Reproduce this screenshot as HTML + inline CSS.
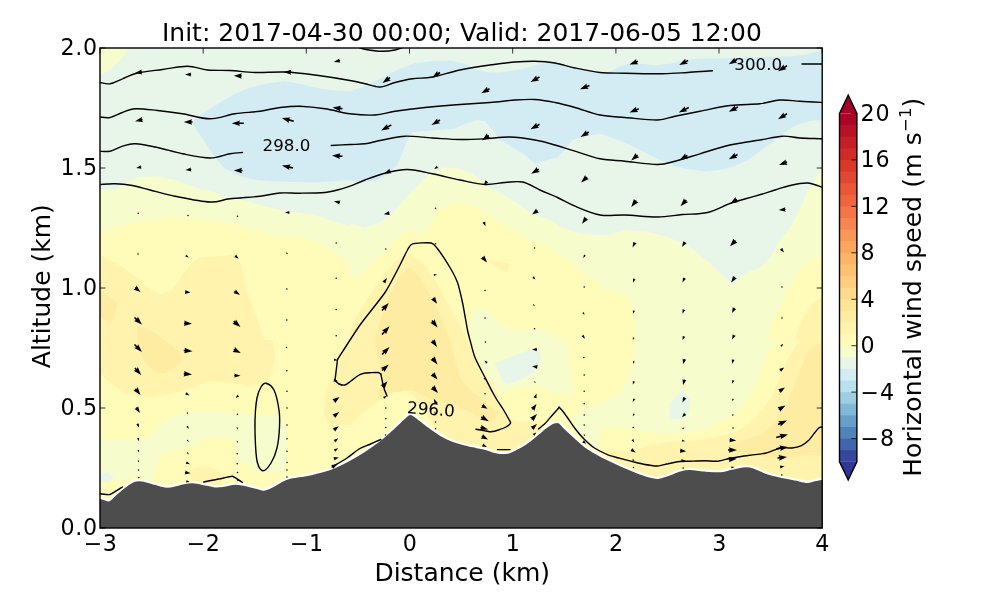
<!DOCTYPE html>
<html><head><meta charset="utf-8"><title>Cross section</title>
<style>html,body{margin:0;padding:0;background:#fff}svg{display:block}text{font-family:"DejaVu Sans","Liberation Sans",sans-serif;fill:#000}</style></head><body>
<svg width="1000" height="600" viewBox="0 0 1000 600">
<rect width="1000" height="600" fill="#fff"/>
<defs><clipPath id="ax"><rect x="100.0" y="48.0" width="722.2" height="480.0"/></clipPath></defs>
<g clip-path="url(#ax)">
<rect x="100.0" y="48.0" width="722.2" height="480.0" fill="#fffbb9"/>
<clipPath id="t1"><rect x="100.0" y="40.0" width="250.0" height="150.0"/></clipPath>
<g clip-path="url(#t1)">
<rect x="99.0" y="39.0" width="252.0" height="152.0" fill="#e8f6ea"/>
<polygon points="100.0,40.0 130.0,40.0 130.0,47.5 122.5,57.5 110.0,70.0 100.0,73.8" fill="#f7fccd"/>
<polygon points="192.0,122.5 200.0,115.0 220.0,102.5 235.0,93.8 250.0,87.5 270.0,83.0 285.0,81.2 300.0,83.8 315.0,87.5 330.0,90.0 350.0,91.2 350.0,180.0 335.0,181.2 315.0,182.5 290.0,182.0 270.0,181.2 255.0,180.0 240.0,176.2 225.0,168.8 215.0,157.5 205.0,142.5 197.5,131.2" fill="#d3ecf4"/>
<polygon points="115.0,190.0 125.0,182.5 140.0,177.0 157.5,176.2 175.0,180.0 192.5,186.2 202.5,190.0" fill="#f7fccd"/>
</g>
<clipPath id="t2"><rect x="350.0" y="40.0" width="250.0" height="150.0"/></clipPath>
<g clip-path="url(#t2)">
<rect x="349.0" y="39.0" width="252.0" height="152.0" fill="#e8f6ea"/>
<polygon points="350.0,91.2 365.0,86.2 382.5,77.5 400.0,68.8 415.0,63.0 432.5,61.2 450.0,60.5 462.5,63.0 475.0,68.8 485.0,72.0 500.0,72.5 520.0,69.5 535.0,65.0 550.0,62.5 565.0,65.5 580.0,68.5 595.0,71.2 600.0,72.0 600.0,133.8 585.0,136.2 572.5,140.0 565.0,150.0 557.5,157.5 547.5,160.0 535.0,163.8 525.0,155.0 512.5,147.5 500.0,140.0 492.5,130.0 485.0,121.2 477.5,120.0 465.0,123.8 455.0,128.8 432.5,130.5 412.5,132.0 407.5,140.0 402.5,152.5 397.5,165.0 387.5,175.0 375.0,181.2 360.0,182.0 350.0,180.0" fill="#d3ecf4"/>
<polygon points="413.8,190.0 422.5,180.0 432.5,171.2 445.0,167.5 457.5,168.0 470.0,172.5 482.5,181.2 492.5,190.0" fill="#f7fccd"/>
</g>
<clipPath id="t3"><rect x="600.0" y="40.0" width="250.0" height="150.0"/></clipPath>
<g clip-path="url(#t3)">
<rect x="599.0" y="39.0" width="252.0" height="152.0" fill="#e8f6ea"/>
<polygon points="600.0,72.0 607.0,73.0 617.5,67.5 628.0,63.8 640.0,63.5 655.0,65.2 670.0,63.8 685.0,60.0 700.0,58.5 730.0,58.0 760.0,57.0 790.0,56.2 807.5,54.5 817.5,51.2 822.5,48.8 850.0,48.8 850.0,119.5 812.5,120.5 800.0,123.8 790.0,128.8 780.0,136.2 770.0,143.8 760.0,151.2 750.0,158.8 735.0,166.2 720.0,170.0 705.0,171.2 690.0,169.5 675.0,166.2 660.0,160.0 645.0,152.5 630.0,145.0 615.0,138.8 600.0,133.8" fill="#d3ecf4"/>
<polygon points="822.5,167.5 817.5,175.0 812.5,185.0 810.0,190.0 850.0,190.0 850.0,167.5" fill="#f7fccd"/>
</g>
<clipPath id="t4"><rect x="100.0" y="190.0" width="250.0" height="150.0"/></clipPath>
<g clip-path="url(#t4)">
<rect x="99.0" y="189.0" width="252.0" height="152.0" fill="#fffbb9"/>
<polygon points="100.0,190.0 350.0,190.0 350.0,262.5 337.5,255.0 325.0,245.5 312.5,240.0 300.0,237.0 285.0,236.2 275.0,236.2 260.0,231.2 240.0,225.0 220.0,222.0 200.0,218.8 175.0,217.5 150.0,219.5 130.0,223.8 112.5,228.8 100.0,230.0" fill="#f7fccd"/>
<polygon points="207.5,190.0 225.0,196.2 245.0,200.5 265.0,206.2 285.0,211.2 300.0,213.0 315.0,215.0 330.0,220.0 350.0,226.2 350.0,190.0" fill="#e8f6ea"/>
<polygon points="100.0,255.0 115.0,262.5 130.0,272.5 145.0,285.0 160.0,295.0 172.5,290.0 182.5,275.0 192.5,262.5 202.5,257.0 220.0,256.2 235.0,254.5 241.2,265.0 245.0,282.5 250.0,300.0 257.5,320.0 265.0,340.0 100.0,340.0" fill="#fff3ad"/>
<polygon points="100.0,290.0 117.5,302.5 115.0,315.0 110.0,325.0 100.0,315.0" fill="#feeca2"/>
<polygon points="137.0,326.0 150.0,330.0 159.0,336.0 163.0,340.0 137.0,340.0" fill="#feeca2"/>
</g>
<clipPath id="t5"><rect x="350.0" y="190.0" width="250.0" height="150.0"/></clipPath>
<g clip-path="url(#t5)">
<rect x="349.0" y="189.0" width="252.0" height="152.0" fill="#fffbb9"/>
<polygon points="350.0,275.0 358.8,276.2 367.5,267.5 380.0,255.0 395.0,240.0 407.5,230.5 422.5,234.5 430.0,225.0 437.5,211.2 450.0,203.8 462.5,202.5 475.0,207.0 490.0,215.0 505.0,225.0 520.0,233.8 530.0,238.8 545.0,243.8 557.5,252.5 575.0,265.0 587.5,276.2 600.0,283.0 600.0,190.0 350.0,190.0" fill="#f7fccd"/>
<polygon points="350.0,190.0 412.5,190.0 403.8,200.0 392.5,213.8 380.0,222.5 365.0,228.0 350.0,223.0" fill="#e8f6ea"/>
<polygon points="495.0,190.0 510.0,198.8 525.0,208.8 535.0,215.0 547.5,218.8 562.5,227.5 580.0,233.8 600.0,235.0 600.0,190.0" fill="#e8f6ea"/>
<polygon points="350.0,340.0 350.0,330.0 360.0,310.0 375.0,287.5 387.5,270.0 400.0,257.5 410.0,253.8 425.0,265.0 437.5,285.0 450.0,307.5 460.0,325.0 467.5,340.0" fill="#fff3ad"/>
<polygon points="375.0,340.0 377.5,330.0 387.5,300.0 400.0,275.0 410.0,267.5 420.0,277.5 430.0,295.0 440.0,315.0 450.0,340.0" fill="#feeca2"/>
<polygon points="486.2,259.5 510.0,263.8 506.2,272.5" fill="#fff3ad"/>
<polygon points="469.5,340.0 470.0,320.0 473.8,308.8 482.5,307.5 490.0,312.5 500.0,323.8 512.5,329.5 530.0,330.0 545.0,328.8 553.8,333.8 557.5,340.0" fill="#f7fccd"/>
</g>
<clipPath id="t6"><rect x="600.0" y="190.0" width="250.0" height="150.0"/></clipPath>
<g clip-path="url(#t6)">
<rect x="599.0" y="189.0" width="252.0" height="152.0" fill="#f7fccd"/>
<polygon points="600.0,190.0 600.0,235.0 610.0,234.5 625.0,230.0 645.0,231.2 665.0,236.2 685.0,243.8 700.0,255.0 715.0,267.5 725.0,277.5 732.5,285.0 740.0,277.5 750.0,271.2 760.0,267.5 770.0,257.5 780.0,240.0 790.0,227.5 800.0,210.0 807.5,190.0" fill="#e8f6ea"/>
<polygon points="600.0,288.8 612.5,290.0 625.0,297.5 632.5,310.0 635.0,325.0 636.2,340.0 600.0,340.0" fill="#fffbb9"/>
<polygon points="850.0,256.2 822.5,256.2 812.5,258.8 802.5,265.0 795.0,277.5 787.5,290.0 780.0,305.0 772.5,322.5 765.0,340.0 850.0,340.0" fill="#fffbb9"/>
<polygon points="850.0,297.5 822.5,297.5 812.5,302.5 805.0,315.0 797.5,330.0 795.0,340.0 850.0,340.0" fill="#fff3ad"/>
</g>
<clipPath id="t7"><rect x="100.0" y="340.0" width="250.0" height="150.0"/></clipPath>
<g clip-path="url(#t7)">
<rect x="99.0" y="339.0" width="252.0" height="152.0" fill="#fffbb9"/>
<polygon points="100.0,340.0 272.5,340.0 275.0,355.0 272.5,372.5 267.5,382.5 250.0,386.2 230.0,382.5 207.5,381.2 195.0,387.5 175.0,392.5 150.0,397.5 125.0,393.8 110.0,382.5 100.0,372.5" fill="#fff3ad"/>
<polygon points="350.0,340.0 346.2,347.5 340.0,361.2 331.2,377.5 325.0,395.0 323.8,412.5 327.5,422.5 337.5,425.0 350.0,425.0" fill="#fff3ad"/>
<polygon points="137.0,340.0 163.0,340.0 169.5,343.5 180.0,352.5 181.5,360.0 175.0,367.5 163.8,373.8 152.5,370.0 145.0,361.2 138.8,350.0" fill="#feeca2"/>
<polygon points="100.0,438.8 125.0,440.0 150.0,437.5 160.0,425.0 175.0,415.0 200.0,411.2 230.0,412.5 255.0,415.0 275.0,415.0 286.2,422.5 287.5,440.0 286.2,470.0 275.0,472.5 260.0,471.2 250.0,465.0 237.5,460.0 236.2,480.0 153.8,480.0 137.5,476.2 125.0,480.0 100.0,482.5" fill="#f7fccd"/>
<polygon points="153.8,480.0 153.8,472.5 157.5,457.5 175.0,450.0 195.0,445.0 207.5,437.5 225.0,436.2 235.0,440.0 236.2,460.0 236.2,480.0" fill="#fffbb9"/>
<polygon points="190.0,470.0 200.0,466.2 212.5,467.5 222.5,475.0 220.0,490.0 190.0,490.0" fill="#fff3ad"/>
<polygon points="100.0,475.0 107.5,472.0 113.8,477.0 107.5,482.5 100.0,480.0" fill="#e8f6ea"/>
</g>
<clipPath id="t8"><rect x="350.0" y="340.0" width="250.0" height="150.0"/></clipPath>
<g clip-path="url(#t8)">
<rect x="349.0" y="339.0" width="252.0" height="152.0" fill="#fffbb9"/>
<polygon points="350.0,340.0 467.5,340.0 472.5,355.0 480.0,370.0 490.0,385.0 500.0,397.5 510.0,407.5 525.0,410.0 540.0,412.5 542.5,422.5 535.0,435.0 525.0,445.0 510.0,452.5 490.0,450.0 470.0,445.0 450.0,440.0 435.0,426.2 425.0,412.5 417.0,400.0 411.0,394.0 405.0,390.2 397.5,391.0 390.0,394.0 381.0,400.0 372.0,406.0 360.0,415.0 350.0,425.0" fill="#fff3ad"/>
<polygon points="375.0,340.0 450.0,340.0 455.0,360.0 460.0,377.5 470.0,390.0 485.0,402.5 500.0,412.5 490.0,422.5 475.0,415.0 455.0,405.0 432.5,400.0 412.5,390.0 392.5,392.5 377.5,400.0 382.5,377.5 377.5,355.0" fill="#feeca2"/>
<polygon points="472.5,340.0 567.5,340.0 570.0,365.0 572.5,385.0 575.0,393.8 562.5,392.5 550.0,393.8 535.0,397.5 520.0,398.8 505.0,396.2 495.0,385.0 485.0,372.5 477.5,357.5" fill="#f7fccd"/>
<polygon points="600.0,403.8 590.0,406.2 580.0,412.5 572.5,420.0 575.0,427.5 585.0,440.0 600.0,451.2" fill="#f7fccd"/>
<polygon points="494.5,363.8 515.0,355.0 535.0,348.5 539.5,350.0 541.2,361.2 533.8,372.5 520.0,380.0 507.5,384.5 503.0,383.0 500.0,375.0" fill="#e8f6ea"/>
</g>
<clipPath id="t9"><rect x="600.0" y="340.0" width="250.0" height="150.0"/></clipPath>
<g clip-path="url(#t9)">
<rect x="599.0" y="339.0" width="252.0" height="152.0" fill="#f7fccd"/>
<polygon points="600.0,340.0 635.0,340.0 632.5,355.0 630.0,372.5 622.5,390.0 610.0,400.0 600.0,402.5" fill="#fffbb9"/>
<polygon points="600.0,427.5 615.0,426.2 637.5,430.0 662.5,433.8 687.5,432.5 710.0,427.5 730.0,417.5 745.0,402.5 755.0,385.0 762.5,365.0 770.0,347.5 775.0,340.0 850.0,340.0 850.0,490.0 600.0,490.0" fill="#fffbb9"/>
<polygon points="600.0,450.0 635.0,451.2 650.0,445.0 675.0,441.2 700.0,440.0 720.0,436.2 735.0,432.5 750.0,422.5 762.5,410.0 772.5,395.0 780.0,377.5 787.5,360.0 795.0,347.5 800.0,340.0 850.0,340.0 850.0,490.0 600.0,490.0" fill="#fff3ad"/>
<polygon points="730.0,445.0 745.0,440.0 760.0,435.0 775.0,422.5 785.0,407.5 792.5,390.0 800.0,370.0 807.5,352.5 815.0,345.0 822.5,342.5 850.0,342.5 850.0,457.5 810.0,455.0 790.0,457.5 770.0,457.5 750.0,455.0 735.0,452.5" fill="#feeca2"/>
<polygon points="668.8,405.0 682.5,388.8 690.0,400.0 688.8,412.5 682.5,418.8 670.0,419.5" fill="#e8f6ea"/>
</g>
<path d="M568.0 339.0 C568.8 351.0 571.3 357.5 572.5 366.0 C573.8 374.5 574.0 384.0 575.5 390.0 C577.0 396.0 578.3 399.6 581.5 402.0 C584.8 404.4 589.3 405.8 595.0 404.4 C600.8 403.0 610.1 399.5 616.0 393.6 C621.9 387.7 627.3 378.1 630.4 369.0 C633.5 359.9 634.3 348.0 634.6 339.0 C635.0 330.0 634.6 322.5 632.5 315.0 C630.4 307.5 632.8 297.5 622.0 294.0 C611.3 290.5 577.0 286.5 568.0 294.0 C559.0 301.5 567.3 327.0 568.0 339.0Z" fill="#fffbb9"/>
<path d="M499.0 396.0 C502.0 392.5 513.0 388.5 520.0 387.0 C527.0 385.5 535.3 385.5 541.0 387.0 C546.8 388.5 552.0 392.5 554.5 396.0 C557.0 399.5 557.8 404.0 556.0 408.0 C554.3 412.0 551.0 418.0 544.0 420.0 C537.0 422.0 521.0 422.0 514.0 420.0 C507.0 418.0 504.5 412.0 502.0 408.0 C499.5 404.0 496.0 399.5 499.0 396.0Z" fill="#fffbb9"/>
<path d="M96.0 497.5 C96.6 497.6 99.0 497.8 100.2 498.0 C101.5 498.2 103.8 498.9 105.0 499.2 C106.2 499.5 107.9 500.8 109.2 500.2 C110.6 499.7 113.3 496.5 115.0 495.0 C116.7 493.5 120.3 490.4 122.0 489.0 C123.7 487.6 126.4 485.4 128.0 484.3 C129.6 483.2 132.5 481.4 134.0 480.9 C135.5 480.4 137.6 480.2 139.0 480.2 C140.4 480.2 142.4 480.3 144.5 480.8 C146.6 481.2 152.6 483.1 155.0 483.8 C157.4 484.4 160.8 485.6 162.5 486.0 C164.2 486.4 166.6 486.6 168.0 486.6 C169.4 486.6 170.7 486.5 173.0 486.0 C175.3 485.5 182.4 483.5 185.0 483.0 C187.6 482.5 190.1 482.1 192.5 482.2 C194.9 482.4 200.0 483.2 203.0 483.8 C206.0 484.3 212.4 486.0 215.0 486.3 C217.6 486.6 220.1 486.3 222.5 486.0 C224.9 485.7 230.8 484.0 233.0 483.8 C235.2 483.5 237.4 483.7 239.0 483.9 C240.6 484.1 243.0 484.5 245.0 484.9 C247.0 485.3 251.6 486.6 254.0 487.2 C256.4 487.9 261.3 489.4 263.0 489.6 C264.7 489.8 265.8 489.2 267.0 488.8 C268.2 488.4 269.9 487.6 272.0 486.5 C274.1 485.4 280.1 481.7 282.5 480.5 C284.9 479.3 287.6 478.4 290.0 477.8 C292.4 477.2 297.5 476.5 300.5 476.0 C303.5 475.5 309.3 474.4 312.5 473.8 C315.7 473.1 321.5 471.6 324.5 470.8 C327.5 469.9 331.6 468.5 335.0 467.0 C338.4 465.5 346.0 461.7 350.0 459.5 C354.0 457.3 361.0 453.1 365.0 450.5 C369.0 447.9 376.0 443.2 380.0 440.0 C384.0 436.8 392.0 429.5 395.0 426.8 C398.0 424.1 400.8 421.1 402.5 419.5 C404.2 417.9 406.5 415.7 407.5 415.0 C408.5 414.3 409.3 414.1 410.0 414.0 C410.7 413.9 411.5 414.1 412.5 414.6 C413.5 415.1 415.4 416.4 417.5 418.0 C419.6 419.6 425.0 424.1 428.0 426.2 C431.0 428.4 436.8 432.6 440.0 434.5 C443.2 436.4 448.8 439.2 452.0 440.5 C455.2 441.8 460.8 443.4 464.0 444.2 C467.2 445.1 473.2 446.2 476.0 446.8 C478.8 447.4 482.6 448.1 485.0 448.8 C487.4 449.4 492.1 451.2 494.0 451.8 C495.9 452.3 497.8 452.6 499.0 452.8 C500.2 453.0 501.9 453.0 503.0 453.0 C504.1 453.0 506.0 452.9 507.0 452.7 C508.0 452.5 509.0 452.4 510.5 451.8 C512.0 451.1 515.4 449.5 518.0 448.0 C520.6 446.5 527.2 442.5 530.0 440.5 C532.8 438.5 537.0 434.7 539.0 433.0 C541.0 431.3 543.4 429.0 545.0 427.8 C546.6 426.5 549.8 424.4 551.0 423.7 C552.2 423.0 553.2 422.7 554.0 422.5 C554.8 422.3 556.2 422.0 557.0 422.0 C557.8 422.0 559.0 422.0 560.0 422.8 C561.0 423.6 562.5 425.8 564.5 427.8 C566.5 429.7 572.2 435.0 575.0 437.5 C577.8 440.0 582.5 444.3 585.5 446.5 C588.5 448.7 593.9 452.0 597.5 454.0 C601.1 456.0 608.5 459.6 612.5 461.5 C616.5 463.4 623.5 466.6 627.5 468.2 C631.5 469.9 639.1 473.1 642.5 474.2 C645.9 475.4 650.8 476.8 653.0 477.2 C655.2 477.7 657.0 478.0 659.0 477.7 C661.0 477.4 665.2 476.0 668.0 475.0 C670.8 474.0 677.1 471.3 680.0 470.5 C682.9 469.7 686.7 469.0 690.0 469.0 C693.3 469.0 701.0 470.2 705.0 470.5 C709.0 470.8 716.6 471.4 720.0 471.2 C723.4 471.1 727.5 469.6 730.5 469.0 C733.5 468.4 739.9 466.8 742.5 466.5 C745.1 466.2 748.0 466.2 750.0 466.5 C752.0 466.8 755.1 468.1 757.5 469.0 C759.9 469.9 765.0 472.5 768.0 473.5 C771.0 474.5 776.4 475.7 780.0 476.5 C783.6 477.3 791.4 478.8 795.0 479.5 C798.6 480.2 804.4 481.8 807.0 481.9 C809.6 482.0 812.2 480.7 814.5 480.2 C816.8 479.8 822.7 478.7 824.0 478.5 L824.2 530.0 L96.0 530.0 Z" fill="#4d4d4d"/>
<path d="M96.0 497.5 C96.6 497.6 99.0 497.8 100.2 498.0 C101.5 498.2 103.8 498.9 105.0 499.2 C106.2 499.5 107.9 500.8 109.2 500.2 C110.6 499.7 113.3 496.5 115.0 495.0 C116.7 493.5 120.3 490.4 122.0 489.0 C123.7 487.6 126.4 485.4 128.0 484.3 C129.6 483.2 132.5 481.4 134.0 480.9 C135.5 480.4 137.6 480.2 139.0 480.2 C140.4 480.2 142.4 480.3 144.5 480.8 C146.6 481.2 152.6 483.1 155.0 483.8 C157.4 484.4 160.8 485.6 162.5 486.0 C164.2 486.4 166.6 486.6 168.0 486.6 C169.4 486.6 170.7 486.5 173.0 486.0 C175.3 485.5 182.4 483.5 185.0 483.0 C187.6 482.5 190.1 482.1 192.5 482.2 C194.9 482.4 200.0 483.2 203.0 483.8 C206.0 484.3 212.4 486.0 215.0 486.3 C217.6 486.6 220.1 486.3 222.5 486.0 C224.9 485.7 230.8 484.0 233.0 483.8 C235.2 483.5 237.4 483.7 239.0 483.9 C240.6 484.1 243.0 484.5 245.0 484.9 C247.0 485.3 251.6 486.6 254.0 487.2 C256.4 487.9 261.3 489.4 263.0 489.6 C264.7 489.8 265.8 489.2 267.0 488.8 C268.2 488.4 269.9 487.6 272.0 486.5 C274.1 485.4 280.1 481.7 282.5 480.5 C284.9 479.3 287.6 478.4 290.0 477.8 C292.4 477.2 297.5 476.5 300.5 476.0 C303.5 475.5 309.3 474.4 312.5 473.8 C315.7 473.1 321.5 471.6 324.5 470.8 C327.5 469.9 331.6 468.5 335.0 467.0 C338.4 465.5 346.0 461.7 350.0 459.5 C354.0 457.3 361.0 453.1 365.0 450.5 C369.0 447.9 376.0 443.2 380.0 440.0 C384.0 436.8 392.0 429.5 395.0 426.8 C398.0 424.1 400.8 421.1 402.5 419.5 C404.2 417.9 406.5 415.7 407.5 415.0 C408.5 414.3 409.3 414.1 410.0 414.0 C410.7 413.9 411.5 414.1 412.5 414.6 C413.5 415.1 415.4 416.4 417.5 418.0 C419.6 419.6 425.0 424.1 428.0 426.2 C431.0 428.4 436.8 432.6 440.0 434.5 C443.2 436.4 448.8 439.2 452.0 440.5 C455.2 441.8 460.8 443.4 464.0 444.2 C467.2 445.1 473.2 446.2 476.0 446.8 C478.8 447.4 482.6 448.1 485.0 448.8 C487.4 449.4 492.1 451.2 494.0 451.8 C495.9 452.3 497.8 452.6 499.0 452.8 C500.2 453.0 501.9 453.0 503.0 453.0 C504.1 453.0 506.0 452.9 507.0 452.7 C508.0 452.5 509.0 452.4 510.5 451.8 C512.0 451.1 515.4 449.5 518.0 448.0 C520.6 446.5 527.2 442.5 530.0 440.5 C532.8 438.5 537.0 434.7 539.0 433.0 C541.0 431.3 543.4 429.0 545.0 427.8 C546.6 426.5 549.8 424.4 551.0 423.7 C552.2 423.0 553.2 422.7 554.0 422.5 C554.8 422.3 556.2 422.0 557.0 422.0 C557.8 422.0 559.0 422.0 560.0 422.8 C561.0 423.6 562.5 425.8 564.5 427.8 C566.5 429.7 572.2 435.0 575.0 437.5 C577.8 440.0 582.5 444.3 585.5 446.5 C588.5 448.7 593.9 452.0 597.5 454.0 C601.1 456.0 608.5 459.6 612.5 461.5 C616.5 463.4 623.5 466.6 627.5 468.2 C631.5 469.9 639.1 473.1 642.5 474.2 C645.9 475.4 650.8 476.8 653.0 477.2 C655.2 477.7 657.0 478.0 659.0 477.7 C661.0 477.4 665.2 476.0 668.0 475.0 C670.8 474.0 677.1 471.3 680.0 470.5 C682.9 469.7 686.7 469.0 690.0 469.0 C693.3 469.0 701.0 470.2 705.0 470.5 C709.0 470.8 716.6 471.4 720.0 471.2 C723.4 471.1 727.5 469.6 730.5 469.0 C733.5 468.4 739.9 466.8 742.5 466.5 C745.1 466.2 748.0 466.2 750.0 466.5 C752.0 466.8 755.1 468.1 757.5 469.0 C759.9 469.9 765.0 472.5 768.0 473.5 C771.0 474.5 776.4 475.7 780.0 476.5 C783.6 477.3 791.4 478.8 795.0 479.5 C798.6 480.2 804.4 481.8 807.0 481.9 C809.6 482.0 812.2 480.7 814.5 480.2 C816.8 479.8 822.7 478.7 824.0 478.5" fill="none" stroke="#fff" stroke-width="2.2" stroke-linejoin="round"/>
<path d="M358.0 47.0 C359.3 47.4 362.0 48.8 366.0 49.5 C370.0 50.2 377.2 51.2 382.0 51.3 C386.8 51.4 391.3 50.7 395.0 50.0 C398.7 49.3 402.5 47.5 404.0 47.0" fill="none" stroke="#000" stroke-width="1.4" stroke-linejoin="round" stroke-linecap="round"/>
<path d="M100.0 82.5 C101.7 82.7 106.2 84.4 110.0 83.8 C113.8 83.1 117.9 80.5 122.5 78.8 C127.1 77.0 130.8 74.5 137.5 73.0 C144.2 71.5 154.2 70.6 162.5 69.5 C170.8 68.4 180.0 66.2 187.5 66.2 C195.0 66.3 200.4 69.3 207.5 70.0 C214.6 70.7 222.1 70.1 230.0 70.5 C237.9 70.9 245.8 72.2 255.0 72.5 C264.2 72.8 275.0 71.6 285.0 72.0 C295.0 72.4 304.2 73.6 315.0 75.0 C325.8 76.4 341.7 79.0 350.0 80.5 C358.3 82.0 360.0 82.7 365.0 83.8 C370.0 84.8 375.0 87.2 380.0 87.0 C385.0 86.8 389.6 83.9 395.0 82.5 C400.4 81.1 406.2 79.7 412.5 78.8 C418.8 77.8 424.6 78.5 432.5 77.0 C440.4 75.5 450.4 72.0 460.0 70.0 C469.6 68.0 480.8 66.3 490.0 65.0 C499.2 63.7 507.5 62.6 515.0 62.0 C522.5 61.4 528.3 61.1 535.0 61.2 C541.7 61.4 548.3 61.9 555.0 63.0 C561.7 64.1 567.5 66.4 575.0 68.0 C582.5 69.6 591.7 71.6 600.0 72.5 C608.3 73.4 614.6 73.0 625.0 73.2 C635.4 73.5 652.1 73.9 662.5 73.8 C672.9 73.6 679.2 73.0 687.5 72.5 C695.8 72.0 708.3 71.0 712.5 70.8" fill="none" stroke="#000" stroke-width="1.4" stroke-linejoin="round" stroke-linecap="round"/>
<path d="M802.0 64.0 L822.5 64.0" fill="none" stroke="#000" stroke-width="1.4" stroke-linejoin="round" stroke-linecap="round"/>
<path d="M100.0 117.0 C101.7 117.1 106.2 118.2 110.0 117.5 C113.8 116.8 118.3 114.0 122.5 112.5 C126.7 111.0 129.2 109.1 135.0 108.8 C140.8 108.4 149.6 109.7 157.5 110.5 C165.4 111.3 173.8 112.4 182.5 113.8 C191.2 115.1 201.2 118.8 210.0 118.8 C218.8 118.8 226.7 115.0 235.0 113.8 C243.3 112.5 252.5 112.3 260.0 111.2 C267.5 110.2 273.3 108.3 280.0 107.5 C286.7 106.7 292.5 106.0 300.0 106.2 C307.5 106.5 316.7 107.5 325.0 108.8 C333.3 110.0 341.7 112.7 350.0 113.8 C358.3 114.8 367.5 115.4 375.0 115.0 C382.5 114.6 386.7 112.5 395.0 111.2 C403.3 110.0 414.2 108.6 425.0 107.5 C435.8 106.4 449.2 105.3 460.0 104.5 C470.8 103.7 480.8 103.2 490.0 102.5 C499.2 101.8 507.5 100.5 515.0 100.0 C522.5 99.5 528.3 99.1 535.0 99.5 C541.7 99.9 548.3 101.2 555.0 102.5 C561.7 103.8 567.5 105.4 575.0 107.5 C582.5 109.6 591.7 113.3 600.0 115.0 C608.3 116.7 615.4 116.7 625.0 117.5 C634.6 118.3 649.2 120.2 657.5 120.0 C665.8 119.8 667.9 117.7 675.0 116.2 C682.1 114.8 690.8 113.0 700.0 111.2 C709.2 109.5 720.0 106.8 730.0 105.5 C740.0 104.2 751.7 104.7 760.0 103.8 C768.3 102.8 773.3 100.4 780.0 100.0 C786.7 99.6 792.9 100.8 800.0 101.2 C807.1 101.7 818.8 102.3 822.5 102.5" fill="none" stroke="#000" stroke-width="1.4" stroke-linejoin="round" stroke-linecap="round"/>
<path d="M100.0 151.2 C101.7 151.2 106.2 152.1 110.0 151.2 C113.8 150.4 118.3 147.5 122.5 146.2 C126.7 145.0 129.2 143.5 135.0 143.8 C140.8 144.0 149.6 145.8 157.5 147.5 C165.4 149.2 173.8 152.0 182.5 153.8 C191.2 155.5 202.1 158.0 210.0 158.0 C217.9 158.0 224.6 154.7 230.0 153.8 C235.4 152.8 240.4 152.7 242.5 152.5" fill="none" stroke="#000" stroke-width="1.4" stroke-linejoin="round" stroke-linecap="round"/>
<path d="M331.2 145.5 C334.4 145.3 344.4 144.8 350.0 144.5 C355.6 144.2 359.6 144.5 365.0 143.8 C370.4 143.0 375.8 141.2 382.5 140.0 C389.2 138.8 396.7 136.6 405.0 136.2 C413.3 135.9 423.3 137.5 432.5 138.0 C441.7 138.5 451.2 139.4 460.0 139.5 C468.8 139.6 476.7 139.2 485.0 138.8 C493.3 138.3 501.7 136.8 510.0 137.0 C518.3 137.2 527.5 138.7 535.0 140.0 C542.5 141.3 548.3 143.1 555.0 145.0 C561.7 146.9 567.5 149.0 575.0 151.2 C582.5 153.5 591.7 157.1 600.0 158.8 C608.3 160.4 615.4 160.3 625.0 161.2 C634.6 162.2 649.2 164.5 657.5 164.5 C665.8 164.5 667.9 163.0 675.0 161.2 C682.1 159.5 690.8 156.5 700.0 153.8 C709.2 151.0 720.0 147.3 730.0 145.0 C740.0 142.7 751.2 141.5 760.0 140.0 C768.8 138.5 775.8 136.6 782.5 136.2 C789.2 135.9 793.3 137.6 800.0 138.0 C806.7 138.4 818.8 138.6 822.5 138.8" fill="none" stroke="#000" stroke-width="1.4" stroke-linejoin="round" stroke-linecap="round"/>
<path d="M100.0 184.5 C102.5 184.4 109.6 183.6 115.0 183.8 C120.4 183.9 126.7 184.5 132.5 185.5 C138.3 186.5 142.9 188.2 150.0 190.0 C157.1 191.8 165.0 194.2 175.0 196.2 C185.0 198.2 200.8 201.6 210.0 202.0 C219.2 202.4 221.7 199.7 230.0 198.8 C238.3 197.8 251.7 197.2 260.0 196.2 C268.3 195.3 273.3 193.5 280.0 193.0 C286.7 192.5 292.5 193.3 300.0 193.2 C307.5 193.1 318.8 193.0 325.0 192.5 C331.2 192.0 333.3 191.0 337.5 190.0 C341.7 189.0 345.4 187.9 350.0 186.2 C354.6 184.6 358.8 182.3 365.0 180.0 C371.2 177.7 380.4 174.2 387.5 172.5 C394.6 170.8 400.0 169.3 407.5 169.5 C415.0 169.7 423.8 172.0 432.5 173.8 C441.2 175.5 451.2 178.2 460.0 180.0 C468.8 181.8 477.5 184.1 485.0 184.5 C492.5 184.9 498.8 182.9 505.0 182.5 C511.2 182.1 516.7 180.8 522.5 182.0 C528.3 183.2 534.2 187.4 540.0 190.0 C545.8 192.6 551.7 194.8 557.5 197.5 C563.3 200.2 567.9 203.3 575.0 206.2 C582.1 209.2 591.7 213.5 600.0 215.0 C608.3 216.5 615.4 214.7 625.0 215.0 C634.6 215.3 647.9 217.1 657.5 217.0 C667.1 216.9 674.2 215.2 682.5 214.5 C690.8 213.8 699.2 214.5 707.5 212.5 C715.8 210.5 724.6 205.2 732.5 202.5 C740.4 199.8 747.9 198.3 755.0 196.2 C762.1 194.2 769.2 191.8 775.0 190.0 C780.8 188.2 784.6 186.7 790.0 185.5 C795.4 184.3 802.0 182.7 807.5 183.0 C813.0 183.3 820.4 186.8 823.0 187.5" fill="none" stroke="#000" stroke-width="1.4" stroke-linejoin="round" stroke-linecap="round"/>
<path d="M476.0 429.2 C477.1 429.4 483.2 430.5 485.0 430.8 C486.8 431.0 489.4 431.9 491.0 431.8 C492.6 431.7 496.8 430.6 498.5 430.0 C500.2 429.4 504.6 427.8 506.0 427.0 C507.4 426.2 510.1 424.1 510.5 423.2 C510.9 422.4 509.9 421.2 509.0 419.5 C508.1 417.8 504.4 411.3 503.0 409.0 C501.6 406.7 498.2 401.9 497.0 400.0 C495.8 398.1 494.4 395.6 493.0 393.0 C491.6 390.4 487.1 381.6 485.0 377.5 C482.9 373.4 476.8 361.9 475.0 357.5 C473.2 353.1 470.9 343.2 470.0 340.0 C469.1 336.8 468.4 334.4 467.5 330.0 C466.6 325.6 463.7 308.0 462.5 302.5 C461.3 297.0 459.0 286.6 457.5 282.5 C456.0 278.4 452.3 271.4 450.0 267.5 C447.7 263.6 439.7 251.6 437.5 248.8 C435.3 245.9 434.2 243.6 431.2 243.0 C428.3 242.4 415.3 242.9 412.5 243.8 C409.7 244.6 409.0 247.5 407.5 250.0 C406.0 252.5 402.6 260.0 400.0 265.0 C397.4 270.0 389.7 285.5 385.0 292.5 C380.3 299.5 365.5 317.2 360.0 325.0 C354.5 332.8 340.1 355.5 337.5 359.5" fill="none" stroke="#000" stroke-width="1.4" stroke-linejoin="round" stroke-linecap="round"/>
<path d="M337.5 359.5 L335.0 380.5" fill="none" stroke="#000" stroke-width="1.4" stroke-linejoin="round" stroke-linecap="round"/>
<path d="M335.0 380.5 C335.5 381.0 337.7 383.4 339.0 384.0 C340.3 384.6 343.4 385.4 345.0 385.0 C346.6 384.6 349.3 382.2 351.0 381.0 C352.7 379.8 355.9 377.0 357.5 376.0 C359.1 375.0 361.3 373.9 363.0 373.5 C364.7 373.1 368.0 372.8 370.0 372.7 C372.0 372.6 376.6 372.3 378.0 372.5 C379.4 372.7 380.4 373.8 380.8 374.0" fill="none" stroke="#000" stroke-width="1.4" stroke-linejoin="round" stroke-linecap="round"/>
<path d="M380.8 374.0 C381.3 376.2 382.7 383.8 383.8 387.5 C384.8 391.2 386.5 394.6 387.0 396.0" fill="none" stroke="#000" stroke-width="1.4" stroke-linejoin="round" stroke-linecap="round"/>
<path d="M266.0 383.2 C268.2 383.8 271.8 385.5 274.0 390.0 C276.2 394.5 278.1 403.8 279.0 410.0 C279.9 416.2 279.8 420.7 279.5 427.0 C279.2 433.3 278.4 442.0 277.0 448.0 C275.6 454.0 273.3 459.2 271.0 463.0 C268.7 466.8 265.2 470.8 263.0 470.8 C260.8 470.8 258.8 467.3 257.5 463.0 C256.2 458.7 255.9 452.2 255.5 445.0 C255.1 437.8 254.8 427.8 255.0 420.0 C255.2 412.2 256.0 403.5 257.0 398.0 C258.0 392.5 259.5 389.5 261.0 387.0 C262.5 384.5 263.8 382.8 266.0 383.2Z" fill="none" stroke="#000" stroke-width="1.4" stroke-linejoin="round" stroke-linecap="round"/>
<path d="M203.8 482.0 C204.8 481.8 218.1 479.1 220.0 478.8 C221.9 478.4 231.0 476.0 232.5 476.2 C234.0 476.5 241.8 482.1 242.5 482.5" fill="none" stroke="#000" stroke-width="1.4" stroke-linejoin="round" stroke-linecap="round"/>
<path d="M100.0 493.8 C100.7 493.8 108.5 494.9 110.0 494.5 C111.5 494.1 121.7 487.5 122.5 487.0" fill="none" stroke="#000" stroke-width="1.4" stroke-linejoin="round" stroke-linecap="round"/>
<path d="M332.0 467.0 C334.0 465.8 343.4 460.4 347.0 458.0 C350.6 455.6 356.0 450.8 359.0 449.0 C362.0 447.2 366.6 445.8 369.5 444.5 C372.4 443.2 379.2 440.2 380.8 439.5" fill="none" stroke="#000" stroke-width="1.4" stroke-linejoin="round" stroke-linecap="round"/>
<path d="M497.5 449.6 L510.0 449.6" fill="none" stroke="#000" stroke-width="1.4" stroke-linejoin="round" stroke-linecap="round"/>
<path d="M538.5 429.0 C538.9 428.6 544.1 424.5 545.0 423.6 C545.9 422.7 551.0 416.6 552.0 415.5 C553.0 414.4 558.8 407.8 559.2 407.3" fill="none" stroke="#000" stroke-width="1.4" stroke-linejoin="round" stroke-linecap="round"/>
<path d="M559.2 407.3 C560.0 408.1 562.4 410.7 564.5 413.5 C566.6 416.3 572.4 425.1 575.0 428.5 C577.6 431.9 581.4 436.4 584.0 439.0 C586.6 441.6 591.3 445.9 594.5 448.0 C597.7 450.1 604.2 453.2 608.0 454.8 C611.8 456.2 619.0 458.1 623.0 459.2 C627.0 460.4 634.4 462.2 638.0 463.0 C641.6 463.8 647.4 464.9 650.0 465.2 C652.6 465.6 655.1 466.2 657.5 466.0 C659.9 465.8 665.0 464.4 668.0 463.8 C671.0 463.1 677.1 461.8 680.0 461.5 C682.9 461.2 686.7 461.3 690.0 461.2 C693.3 461.1 701.4 460.8 705.0 460.8 C708.6 460.8 713.8 461.5 717.0 461.2 C720.2 460.9 725.6 459.2 729.0 458.5 C732.4 457.8 737.7 456.9 742.5 456.2 C747.3 455.6 760.8 454.1 765.0 453.2 C769.2 452.4 771.8 451.0 774.0 450.2 C776.2 449.5 779.1 448.0 781.5 447.7 C783.9 447.4 789.4 448.3 792.0 448.0 C794.6 447.7 798.8 446.8 801.0 445.8 C803.2 444.8 806.7 442.2 808.5 440.5 C810.3 438.8 813.1 434.7 814.5 433.0 C815.9 431.3 817.9 428.6 819.0 427.8 C820.1 426.9 822.5 427.1 823.0 427.0" fill="none" stroke="#000" stroke-width="1.4" stroke-linejoin="round" stroke-linecap="round"/>
<polygon points="142.1,72.7 141.4,72.8 142.3,74.4 135.0,73.0 141.7,69.6 141.2,71.4 141.9,71.3" fill="#000"/>
<polygon points="191.2,75.1 190.6,75.1 191.2,76.6 185.0,74.5 191.2,72.4 190.6,73.9 191.2,73.9" fill="#000"/>
<polygon points="241.7,76.8 240.9,76.8 241.7,78.7 233.8,75.8 241.8,73.3 241.0,75.2 241.8,75.2" fill="#000"/>
<polygon points="291.2,73.0 290.5,73.0 291.2,74.8 283.8,72.0 291.3,69.7 290.5,71.5 291.3,71.5" fill="#000"/>
<polygon points="340.1,61.1 339.5,61.3 340.5,62.6 333.8,62.0 339.5,58.4 339.2,60.0 339.9,59.9" fill="#000"/>
<polygon points="142.7,120.2 141.9,120.4 143.1,122.0 135.0,121.2 141.9,117.0 141.6,118.9 142.3,118.8" fill="#000"/>
<polygon points="192.5,122.8 191.2,122.8 192.0,124.8 183.8,122.0 192.0,119.2 191.2,121.2 192.5,121.2" fill="#000"/>
<polygon points="243.8,124.1 239.2,124.1 240.0,126.1 231.8,123.2 240.0,120.4 239.2,122.4 243.8,122.4" fill="#000"/>
<polygon points="293.5,122.0 288.7,120.7 289.0,122.9 281.8,118.0 290.4,117.4 289.1,119.1 294.0,120.5" fill="#000"/>
<polygon points="342.4,109.6 339.8,109.2 340.3,111.3 332.5,107.5 341.0,105.7 340.0,107.6 342.6,107.9" fill="#000"/>
<polygon points="141.3,167.5 140.8,167.6 141.6,168.7 136.2,168.0 140.9,165.3 140.7,166.6 141.2,166.5" fill="#000"/>
<polygon points="191.3,170.1 190.7,170.1 191.4,171.5 185.5,170.0 191.1,167.5 190.6,169.0 191.2,168.9" fill="#000"/>
<polygon points="242.5,171.3 241.2,171.3 242.0,173.3 233.8,170.5 242.0,167.7 241.2,169.7 242.5,169.7" fill="#000"/>
<polygon points="292.8,168.8 289.1,168.0 289.4,170.1 282.0,165.5 290.7,164.6 289.4,166.3 293.2,167.2" fill="#000"/>
<polygon points="342.4,157.1 339.3,156.9 340.0,158.9 332.0,155.5 340.4,153.3 339.5,155.2 342.6,155.4" fill="#000"/>
<polygon points="390.5,78.2 389.0,79.3 390.8,80.4 382.5,83.0 387.5,75.9 388.0,77.9 389.5,76.8" fill="#000"/>
<polygon points="440.5,73.2 438.6,74.5 440.4,75.6 432.0,78.0 437.2,71.0 437.7,73.1 439.5,71.8" fill="#000"/>
<polygon points="489.9,89.5 488.2,90.4 489.8,91.8 481.2,93.2 487.1,86.8 487.4,89.0 489.1,88.0" fill="#000"/>
<polygon points="539.9,77.7 537.4,79.1 539.1,80.4 530.5,82.0 536.3,75.5 536.6,77.7 539.1,76.3" fill="#000"/>
<polygon points="589.8,86.3 587.2,87.3 588.7,88.8 580.0,89.2 586.6,83.6 586.6,85.8 589.2,84.7" fill="#000"/>
<polygon points="391.6,125.7 388.2,127.6 389.8,129.0 381.2,130.5 387.1,124.1 387.4,126.2 390.9,124.3" fill="#000"/>
<polygon points="440.4,120.7 438.3,121.9 440.0,123.2 431.5,125.0 437.2,118.4 437.5,120.5 439.6,119.3" fill="#000"/>
<polygon points="489.2,136.2 488.5,136.7 490.3,137.8 482.0,140.5 487.0,133.3 487.5,135.4 488.3,134.8" fill="#000"/>
<polygon points="539.9,125.0 537.4,126.4 539.1,127.7 530.5,129.2 536.3,122.8 536.6,124.9 539.1,123.5" fill="#000"/>
<polygon points="589.2,132.7 587.3,133.9 589.0,135.1 580.5,137.0 586.1,130.3 586.4,132.4 588.3,131.3" fill="#000"/>
<polygon points="390.8,171.7 390.1,172.0 391.4,173.3 383.8,173.8 389.6,168.7 389.6,170.6 390.2,170.3" fill="#000"/>
<polygon points="437.7,167.1 437.4,167.3 438.3,167.9 434.2,169.0 436.7,165.6 436.9,166.7 437.3,166.4" fill="#000"/>
<polygon points="487.4,181.6 487.1,181.9 488.3,182.4 483.8,185.0 485.7,180.1 486.3,181.3 486.6,180.9" fill="#000"/>
<polygon points="539.2,170.0 538.0,170.6 539.8,171.9 531.2,173.8 536.9,167.1 537.2,169.2 538.3,168.5" fill="#000"/>
<polygon points="587.5,177.6 587.0,178.1 588.9,179.0 581.2,182.5 585.1,175.0 585.9,177.0 586.5,176.4" fill="#000"/>
<polygon points="638.3,62.0 636.7,62.6 638.2,64.2 629.5,64.5 636.2,58.9 636.1,61.1 637.7,60.5" fill="#000"/>
<polygon points="688.4,61.2 686.2,62.3 687.9,63.7 679.2,65.0 685.3,58.7 685.5,60.9 687.6,59.8" fill="#000"/>
<polygon points="737.4,60.2 735.6,61.3 737.3,62.6 728.8,64.2 734.5,57.7 734.8,59.8 736.6,58.8" fill="#000"/>
<polygon points="787.4,66.5 784.8,68.1 786.5,69.3 778.0,71.2 783.6,64.6 783.9,66.7 786.6,65.0" fill="#000"/>
<polygon points="639.1,109.5 636.7,110.5 638.2,112.0 629.5,112.5 636.1,106.8 636.1,108.9 638.4,108.0" fill="#000"/>
<polygon points="689.1,108.2 685.8,109.9 687.4,111.3 678.8,112.5 684.9,106.3 685.0,108.4 688.4,106.8" fill="#000"/>
<polygon points="738.4,107.7 735.7,109.1 737.4,110.5 728.8,111.8 734.8,105.5 735.0,107.6 737.6,106.3" fill="#000"/>
<polygon points="787.4,114.5 784.8,116.1 786.5,117.3 778.0,119.2 783.6,112.6 783.9,114.7 786.6,113.0" fill="#000"/>
<polygon points="638.0,155.6 637.4,156.2 639.3,157.2 631.2,160.5 635.6,152.9 636.3,155.0 637.0,154.4" fill="#000"/>
<polygon points="687.9,156.2 686.4,157.1 688.1,158.4 679.5,160.0 685.3,153.5 685.6,155.6 687.1,154.8" fill="#000"/>
<polygon points="737.9,155.2 735.7,156.4 737.3,157.8 728.8,159.2 734.7,152.8 734.9,155.0 737.1,153.8" fill="#000"/>
<polygon points="787.3,162.8 786.2,163.2 787.7,164.7 779.0,165.0 785.7,159.5 785.7,161.6 786.7,161.2" fill="#000"/>
<circle cx="138.2" cy="213.2" r="0.75" fill="#000"/>
<circle cx="188.0" cy="215.5" r="0.75" fill="#000"/>
<circle cx="237.5" cy="216.2" r="0.75" fill="#000"/>
<polygon points="289.5,212.9 289.1,212.9 289.5,214.0 285.0,212.5 289.5,211.0 289.1,212.1 289.5,212.1" fill="#000"/>
<polygon points="339.9,203.1 339.2,203.0 339.6,204.6 333.8,201.2 340.4,200.4 339.5,201.8 340.1,201.9" fill="#000"/>
<circle cx="138.0" cy="254.0" r="0.75" fill="#000"/>
<polygon points="185.9,255.2 186.2,255.4 186.4,254.5 188.8,257.5 185.1,256.5 185.9,256.0 185.6,255.8" fill="#000"/>
<polygon points="235.3,255.4 235.7,255.7 236.0,254.5 238.8,258.8 234.0,257.0 235.1,256.4 234.7,256.1" fill="#000"/>
<polygon points="287.4,253.9 287.2,253.8 287.1,254.4 285.5,252.5 287.9,253.1 287.4,253.4 287.6,253.6" fill="#000"/>
<circle cx="336.2" cy="243.0" r="0.75" fill="#000"/>
<polygon points="135.4,286.9 136.0,287.4 136.5,285.6 140.5,292.0 133.5,289.4 135.1,288.5 134.6,288.1" fill="#000"/>
<polygon points="185.1,291.4 185.6,291.5 185.2,290.1 190.5,292.5 184.8,293.9 185.5,292.6 184.9,292.6" fill="#000"/>
<polygon points="234.9,290.7 235.4,291.1 235.8,289.4 240.0,295.0 233.2,293.1 234.7,292.2 234.1,291.8" fill="#000"/>
<circle cx="286.8" cy="289.0" r="0.75" fill="#000"/>
<circle cx="336.2" cy="278.2" r="0.75" fill="#000"/>
<polygon points="135.1,316.9 137.1,318.8 137.9,316.8 142.0,324.5 134.1,320.9 136.0,320.0 133.9,318.1" fill="#000"/>
<polygon points="184.1,322.4 184.9,322.5 184.2,320.5 192.0,323.8 183.8,326.0 184.8,324.1 183.9,324.1" fill="#000"/>
<polygon points="234.3,320.6 235.4,321.6 236.0,319.5 240.5,327.0 232.4,323.8 234.3,322.8 233.2,321.9" fill="#000"/>
<circle cx="286.8" cy="320.0" r="0.75" fill="#000"/>
<circle cx="336.2" cy="309.5" r="0.75" fill="#000"/>
<circle cx="336.2" cy="335.8" r="0.75" fill="#000"/>
<polygon points="389.6,213.6 389.1,213.7 389.9,215.0 383.8,214.2 389.1,211.0 388.8,212.6 389.4,212.4" fill="#000"/>
<circle cx="385.8" cy="249.0" r="0.75" fill="#000"/>
<polygon points="383.3,282.2 383.6,281.7 382.2,281.4 387.0,278.0 385.3,283.6 384.5,282.4 384.2,282.8" fill="#000"/>
<polygon points="381.4,309.9 383.2,308.0 381.1,307.3 388.8,303.0 385.3,311.0 384.4,309.1 382.6,311.1" fill="#000"/>
<polygon points="381.4,333.9 383.9,331.2 381.9,330.5 389.5,326.2 386.0,334.2 385.1,332.3 382.6,335.1" fill="#000"/>
<circle cx="435.5" cy="208.2" r="0.75" fill="#000"/>
<circle cx="435.5" cy="243.8" r="0.75" fill="#000"/>
<polygon points="433.7,274.7 434.0,274.6 433.6,273.9 437.0,274.5 433.9,276.1 434.1,275.3 433.8,275.3" fill="#000"/>
<polygon points="433.6,297.6 434.0,298.2 435.0,296.6 437.0,303.8 431.0,299.4 432.8,299.0 432.4,298.4" fill="#000"/>
<polygon points="432.6,320.0 433.6,321.2 434.6,319.3 437.5,327.5 430.2,322.7 432.3,322.2 431.4,321.0" fill="#000"/>
<polygon points="484.2,221.8 484.4,222.2 485.2,221.4 485.5,226.2 482.3,222.6 483.5,222.6 483.3,222.2" fill="#000"/>
<polygon points="483.1,256.6 483.5,257.1 484.4,255.5 487.0,262.5 480.6,258.5 482.4,258.0 481.9,257.4" fill="#000"/>
<circle cx="485.0" cy="290.5" r="0.75" fill="#000"/>
<circle cx="485.0" cy="318.0" r="0.75" fill="#000"/>
<polygon points="537.9,211.1 537.4,211.5 538.9,212.4 532.0,214.5 536.1,208.6 536.6,210.3 537.1,209.9" fill="#000"/>
<circle cx="534.5" cy="248.0" r="0.75" fill="#000"/>
<polygon points="533.2,276.8 533.5,277.0 533.9,276.1 535.5,279.5 532.1,277.9 533.0,277.5 532.8,277.2" fill="#000"/>
<polygon points="533.4,304.3 533.6,304.5 533.8,303.9 535.0,306.2 532.7,305.1 533.2,304.9 533.1,304.7" fill="#000"/>
<circle cx="534.5" cy="328.8" r="0.75" fill="#000"/>
<polygon points="586.8,218.4 586.4,219.0 588.2,219.4 582.0,223.8 584.3,216.6 585.2,218.1 585.7,217.6" fill="#000"/>
<polygon points="585.3,255.2 585.1,255.5 586.0,255.6 583.2,258.0 584.0,254.4 584.5,255.1 584.7,254.8" fill="#000"/>
<circle cx="584.2" cy="287.0" r="0.75" fill="#000"/>
<polygon points="583.2,312.4 583.4,312.6 583.9,312.0 584.5,315.0 582.1,313.0 582.9,312.9 582.8,312.6" fill="#000"/>
<polygon points="582.8,335.2 583.1,335.6 583.6,334.6 585.0,338.8 581.4,336.4 582.4,336.1 582.2,335.8" fill="#000"/>
<polygon points="636.9,201.0 636.4,201.7 638.5,202.2 631.2,207.0 634.0,198.8 635.1,200.7 635.6,200.0" fill="#000"/>
<polygon points="635.5,242.8 635.2,243.2 636.7,243.3 632.5,247.5 633.3,241.7 634.2,242.8 634.5,242.2" fill="#000"/>
<polygon points="634.6,278.9 634.5,279.2 635.5,279.2 633.0,282.5 633.0,278.3 633.8,279.0 633.9,278.6" fill="#000"/>
<polygon points="634.3,310.6 634.2,310.9 635.1,310.8 633.0,313.8 632.9,310.2 633.6,310.7 633.7,310.4" fill="#000"/>
<polygon points="634.0,337.6 633.9,337.9 634.6,337.8 632.8,340.0 632.9,337.2 633.4,337.6 633.5,337.4" fill="#000"/>
<polygon points="686.9,200.6 686.1,201.3 688.2,202.1 680.5,206.2 684.0,198.3 684.9,200.2 685.6,199.4" fill="#000"/>
<polygon points="685.5,242.3 685.2,242.8 686.7,243.0 682.0,247.0 683.3,241.0 684.2,242.2 684.5,241.7" fill="#000"/>
<polygon points="685.0,278.2 684.8,278.6 686.0,278.7 682.5,282.5 683.0,277.3 683.8,278.2 684.0,277.8" fill="#000"/>
<polygon points="684.4,309.6 684.3,310.1 685.4,310.0 682.5,313.8 682.6,309.0 683.4,309.8 683.6,309.4" fill="#000"/>
<polygon points="684.4,336.4 684.2,336.8 685.3,336.8 682.5,340.0 682.7,335.7 683.5,336.5 683.6,336.1" fill="#000"/>
<polygon points="737.4,200.2 736.7,200.6 738.4,201.9 730.0,203.8 735.6,197.1 735.9,199.2 736.6,198.8" fill="#000"/>
<polygon points="736.1,241.1 735.5,241.6 737.5,242.4 730.0,246.2 733.5,238.6 734.4,240.5 734.9,239.9" fill="#000"/>
<polygon points="735.5,277.4 735.2,277.9 736.9,278.3 731.2,282.5 733.1,275.7 734.1,277.2 734.5,276.6" fill="#000"/>
<polygon points="735.0,308.2 734.8,308.8 736.2,308.9 732.0,313.0 732.8,307.1 733.8,308.2 734.0,307.8" fill="#000"/>
<polygon points="734.7,335.2 734.5,335.7 735.8,335.8 732.0,339.5 732.7,334.2 733.6,335.2 733.8,334.8" fill="#000"/>
<polygon points="785.5,210.2 784.9,210.2 785.7,211.8 778.8,210.0 785.3,207.2 784.8,208.9 785.5,208.8" fill="#000"/>
<polygon points="781.4,248.4 781.7,248.8 782.3,247.7 784.0,252.5 779.7,249.8 780.9,249.4 780.6,249.1" fill="#000"/>
<circle cx="782.0" cy="287.0" r="0.75" fill="#000"/>
<circle cx="782.0" cy="318.0" r="0.75" fill="#000"/>
<polygon points="135.1,343.9 137.3,346.2 138.1,344.2 142.0,352.0 134.2,348.1 136.2,347.3 133.9,345.1" fill="#000"/>
<polygon points="135.6,367.5 136.9,368.9 137.8,367.0 141.2,375.0 133.7,370.7 135.7,370.0 134.4,368.5" fill="#000"/>
<polygon points="136.1,388.2 136.6,388.9 137.6,387.1 140.5,395.0 133.4,390.4 135.4,389.9 134.9,389.2" fill="#000"/>
<polygon points="136.8,407.1 137.2,407.7 138.1,406.2 140.0,413.0 134.4,408.8 136.1,408.4 135.7,407.9" fill="#000"/>
<polygon points="137.9,423.6 138.0,424.0 138.8,423.2 139.0,427.5 136.2,424.3 137.3,424.3 137.1,423.9" fill="#000"/>
<polygon points="138.3,437.9 138.4,438.2 139.1,437.7 139.0,441.2 136.9,438.3 137.8,438.4 137.7,438.1" fill="#000"/>
<polygon points="138.5,449.9 138.6,450.2 139.1,449.7 139.0,452.5 137.4,450.3 138.1,450.3 138.0,450.1" fill="#000"/>
<polygon points="138.4,460.4 138.5,460.6 138.9,460.2 139.0,462.5 137.6,460.8 138.1,460.8 138.1,460.6" fill="#000"/>
<circle cx="138.5" cy="470.0" r="0.75" fill="#000"/>
<circle cx="138.8" cy="477.5" r="0.75" fill="#000"/>
<polygon points="183.8,349.7 185.2,349.8 184.5,347.8 192.5,351.2 184.0,353.3 185.0,351.4 183.7,351.3" fill="#000"/>
<polygon points="183.8,372.9 184.7,373.0 184.0,371.0 192.0,374.5 183.5,376.5 184.5,374.6 183.7,374.6" fill="#000"/>
<polygon points="186.0,392.9 186.3,393.1 186.5,392.0 189.5,395.5 185.0,394.5 185.9,393.9 185.5,393.6" fill="#000"/>
<polygon points="187.2,412.4 187.3,412.6 187.6,412.1 188.2,414.2 186.4,412.9 186.9,412.8 186.8,412.6" fill="#000"/>
<polygon points="187.2,426.1 187.4,426.3 187.8,425.6 189.0,428.8 186.2,426.9 186.9,426.7 186.8,426.4" fill="#000"/>
<polygon points="187.4,439.9 187.6,440.1 187.9,439.5 188.8,442.0 186.6,440.5 187.2,440.3 187.1,440.1" fill="#000"/>
<polygon points="187.4,452.4 187.6,452.6 187.9,452.0 188.8,454.5 186.6,453.0 187.2,452.8 187.1,452.6" fill="#000"/>
<polygon points="186.4,462.1 186.8,462.3 186.8,461.2 190.0,464.2 185.7,463.8 186.4,463.1 186.1,462.9" fill="#000"/>
<polygon points="185.1,471.9 185.6,472.0 185.3,470.6 190.5,473.2 184.7,474.4 185.5,473.1 184.9,473.1" fill="#000"/>
<polygon points="186.3,480.9 186.6,481.0 186.5,480.1 189.5,482.0 186.0,482.4 186.5,481.6 186.2,481.6" fill="#000"/>
<polygon points="234.1,348.8 234.8,349.2 234.9,347.1 240.8,353.0 232.6,351.9 234.1,350.6 233.4,350.2" fill="#000"/>
<polygon points="234.3,374.9 234.9,374.9 234.3,373.4 240.5,375.8 234.2,377.6 234.8,376.1 234.2,376.1" fill="#000"/>
<polygon points="238.5,395.8 238.2,396.0 239.1,396.4 235.8,398.0 237.4,394.6 237.8,395.5 238.0,395.2" fill="#000"/>
<circle cx="237.5" cy="414.2" r="0.75" fill="#000"/>
<polygon points="237.2,427.4 237.3,427.6 237.7,427.2 238.0,429.5 236.3,427.8 236.9,427.8 236.8,427.6" fill="#000"/>
<polygon points="237.2,441.1 237.3,441.3 237.6,440.9 238.0,443.0 236.4,441.6 236.9,441.5 236.8,441.4" fill="#000"/>
<circle cx="237.2" cy="453.8" r="0.75" fill="#000"/>
<circle cx="237.2" cy="463.8" r="0.75" fill="#000"/>
<circle cx="237.5" cy="472.5" r="0.75" fill="#000"/>
<circle cx="238.0" cy="480.5" r="0.75" fill="#000"/>
<circle cx="286.5" cy="347.5" r="0.75" fill="#000"/>
<circle cx="286.8" cy="370.8" r="0.75" fill="#000"/>
<circle cx="287.0" cy="391.2" r="0.75" fill="#000"/>
<circle cx="287.0" cy="408.0" r="0.75" fill="#000"/>
<circle cx="287.0" cy="425.0" r="0.75" fill="#000"/>
<circle cx="287.0" cy="438.8" r="0.75" fill="#000"/>
<circle cx="287.0" cy="451.2" r="0.75" fill="#000"/>
<circle cx="287.0" cy="462.5" r="0.75" fill="#000"/>
<circle cx="287.0" cy="470.0" r="0.75" fill="#000"/>
<circle cx="287.0" cy="477.0" r="0.75" fill="#000"/>
<polygon points="334.1,359.1 334.5,359.2 334.3,358.3 337.5,360.5 333.7,360.7 334.2,360.0 333.9,359.9" fill="#000"/>
<polygon points="333.9,379.6 334.3,379.7 334.2,378.6 338.0,381.2 333.3,381.4 334.1,380.6 333.6,380.4" fill="#000"/>
<polygon points="333.3,400.7 333.9,400.2 332.3,399.3 339.5,397.0 335.2,403.2 334.8,401.4 334.2,401.8" fill="#000"/>
<polygon points="333.3,415.7 333.9,415.3 332.3,414.4 339.2,412.0 335.2,418.1 334.7,416.4 334.2,416.8" fill="#000"/>
<polygon points="333.4,429.5 333.9,429.1 332.5,428.3 338.8,426.2 335.0,431.7 334.6,430.1 334.1,430.5" fill="#000"/>
<polygon points="334.2,440.9 334.6,440.6 333.5,440.0 338.2,438.2 335.5,442.5 335.2,441.3 334.8,441.6" fill="#000"/>
<polygon points="334.3,450.1 334.6,449.9 333.7,449.2 338.2,448.2 335.3,451.8 335.1,450.6 334.7,450.9" fill="#000"/>
<polygon points="333.6,458.2 334.1,458.1 333.3,457.1 338.8,457.5 334.2,460.4 334.4,459.1 333.9,459.2" fill="#000"/>
<polygon points="331.7,466.4 332.3,466.2 331.1,465.1 337.5,464.2 332.9,468.9 332.8,467.3 332.3,467.6" fill="#000"/>
<polygon points="381.4,353.9 383.7,351.7 381.7,350.9 389.5,347.0 385.6,354.8 384.8,352.8 382.6,355.1" fill="#000"/>
<polygon points="381.5,369.9 382.7,368.8 380.7,367.9 388.8,364.5 384.4,372.1 383.7,370.0 382.5,371.1" fill="#000"/>
<polygon points="381.9,386.5 382.4,385.9 380.5,385.3 387.5,381.2 384.5,388.7 383.6,386.9 383.1,387.5" fill="#000"/>
<polygon points="383.5,397.7 383.8,397.4 382.9,397.0 386.8,395.5 384.6,399.0 384.3,398.1 384.0,398.3" fill="#000"/>
<circle cx="385.8" cy="408.0" r="0.75" fill="#000"/>
<circle cx="385.8" cy="418.8" r="0.75" fill="#000"/>
<circle cx="385.8" cy="427.5" r="0.75" fill="#000"/>
<circle cx="385.5" cy="435.0" r="0.75" fill="#000"/>
<polygon points="433.1,340.1 433.6,340.7 434.7,339.0 437.0,347.0 430.3,342.0 432.3,341.6 431.9,340.9" fill="#000"/>
<polygon points="433.1,357.5 433.6,358.1 434.7,356.3 437.5,364.5 430.3,359.7 432.4,359.1 431.9,358.5" fill="#000"/>
<polygon points="433.1,373.2 433.6,373.8 434.5,372.1 437.5,379.5 430.5,375.4 432.4,374.8 431.9,374.2" fill="#000"/>
<polygon points="433.1,386.4 433.7,387.1 434.5,385.1 438.0,393.0 430.5,388.9 432.4,388.2 431.9,387.6" fill="#000"/>
<polygon points="435.8,404.0 435.5,403.5 434.6,404.6 433.8,398.8 437.9,402.9 436.5,403.0 436.8,403.5" fill="#000"/>
<polygon points="435.2,413.9 435.1,413.6 434.6,414.1 434.5,411.2 436.4,413.4 435.6,413.4 435.8,413.6" fill="#000"/>
<circle cx="435.5" cy="422.0" r="0.75" fill="#000"/>
<circle cx="435.5" cy="428.8" r="0.75" fill="#000"/>
<circle cx="485.5" cy="342.0" r="0.75" fill="#000"/>
<polygon points="486.8,363.2 486.5,363.0 486.1,363.9 484.5,360.5 487.9,362.1 487.0,362.5 487.2,362.8" fill="#000"/>
<circle cx="484.5" cy="378.8" r="0.75" fill="#000"/>
<circle cx="485.0" cy="393.8" r="0.75" fill="#000"/>
<polygon points="482.3,404.9 482.9,405.3 483.1,403.6 487.5,408.8 480.9,407.4 482.2,406.4 481.7,406.1" fill="#000"/>
<polygon points="481.7,416.3 482.7,416.9 483.0,414.7 488.8,421.2 480.2,419.6 481.9,418.3 480.8,417.7" fill="#000"/>
<polygon points="480.7,426.7 481.5,426.9 481.2,424.9 488.2,429.5 479.8,430.1 481.1,428.5 480.3,428.3" fill="#000"/>
<polygon points="482.1,435.6 482.7,435.9 482.9,434.1 488.0,439.5 480.6,438.4 482.1,437.2 481.4,436.9" fill="#000"/>
<polygon points="482.7,444.6 483.1,444.8 483.2,443.5 487.0,447.0 481.8,446.5 482.8,445.6 482.3,445.4" fill="#000"/>
<polygon points="537.0,350.0 536.5,350.0 537.0,351.2 532.0,349.5 537.0,347.8 536.5,349.0 537.0,349.0" fill="#000"/>
<polygon points="537.4,367.6 536.9,367.5 537.2,368.9 532.0,366.2 537.8,365.1 537.0,366.4 537.6,366.4" fill="#000"/>
<polygon points="535.4,382.7 535.2,382.6 535.1,383.1 533.8,381.2 535.9,381.9 535.5,382.2 535.6,382.3" fill="#000"/>
<polygon points="534.5,397.9 534.7,397.4 533.5,397.5 536.5,393.5 536.5,398.5 535.6,397.7 535.5,398.1" fill="#000"/>
<polygon points="532.0,409.1 532.4,408.6 530.6,408.1 536.5,404.0 534.4,410.9 533.4,409.3 533.0,409.9" fill="#000"/>
<polygon points="531.2,419.0 531.7,418.4 529.9,417.7 537.0,414.0 533.6,421.3 532.8,419.5 532.3,420.0" fill="#000"/>
<polygon points="531.5,428.0 532.0,427.6 530.5,426.8 537.0,424.0 533.5,430.2 533.0,428.6 532.5,429.0" fill="#000"/>
<polygon points="533.2,434.7 533.5,434.5 532.6,434.1 536.2,432.5 534.4,435.9 534.0,435.0 533.8,435.3" fill="#000"/>
<circle cx="583.8" cy="357.5" r="0.75" fill="#000"/>
<circle cx="584.2" cy="375.0" r="0.75" fill="#000"/>
<circle cx="584.2" cy="391.2" r="0.75" fill="#000"/>
<circle cx="584.2" cy="403.8" r="0.75" fill="#000"/>
<circle cx="584.2" cy="415.0" r="0.75" fill="#000"/>
<circle cx="584.2" cy="425.0" r="0.75" fill="#000"/>
<polygon points="583.9,434.3 584.1,434.5 584.3,433.9 585.5,436.2 583.2,435.1 583.8,434.9 583.6,434.7" fill="#000"/>
<polygon points="583.2,440.9 583.6,441.2 583.9,440.1 586.2,443.8 582.1,442.4 583.1,441.8 582.8,441.6" fill="#000"/>
<polygon points="634.2,361.4 634.1,361.6 634.9,361.6 633.0,363.8 633.1,360.9 633.6,361.4 633.8,361.1" fill="#000"/>
<polygon points="634.3,381.4 634.2,381.7 635.1,381.7 632.8,384.5 632.9,380.8 633.5,381.4 633.7,381.1" fill="#000"/>
<polygon points="634.6,398.9 634.4,399.2 635.4,399.3 632.8,402.0 633.1,398.2 633.8,398.9 633.9,398.6" fill="#000"/>
<polygon points="634.2,413.9 634.1,414.1 634.9,414.2 632.8,416.2 633.1,413.3 633.6,413.9 633.8,413.6" fill="#000"/>
<circle cx="633.2" cy="427.5" r="0.75" fill="#000"/>
<polygon points="632.8,439.3 633.0,439.6 633.5,438.9 634.2,442.5 631.5,440.1 632.4,440.0 632.2,439.7" fill="#000"/>
<polygon points="631.5,449.1 632.0,449.4 632.3,448.1 635.5,452.5 630.2,450.9 631.4,450.2 631.0,449.9" fill="#000"/>
<polygon points="632.6,459.3 632.9,459.4 633.0,458.8 634.5,461.0 632.0,460.2 632.6,459.8 632.4,459.7" fill="#000"/>
<circle cx="633.5" cy="467.5" r="0.75" fill="#000"/>
<polygon points="685.0,359.1 684.9,359.7 686.3,359.5 683.0,364.2 682.7,358.5 683.8,359.4 684.0,358.9" fill="#000"/>
<polygon points="685.0,379.6 684.9,380.2 686.4,380.0 683.0,385.0 682.6,379.0 683.8,379.9 684.0,379.4" fill="#000"/>
<polygon points="685.2,397.7 685.0,398.2 686.5,398.3 682.5,402.5 683.0,396.7 684.0,397.8 684.2,397.3" fill="#000"/>
<polygon points="685.6,414.1 685.3,414.4 686.4,414.9 682.0,417.2 684.1,412.6 684.6,413.8 684.9,413.4" fill="#000"/>
<polygon points="682.4,428.6 682.6,428.4 682.1,428.1 684.5,427.5 682.9,429.4 682.8,428.8 682.6,428.9" fill="#000"/>
<polygon points="682.1,440.2 682.4,440.3 682.3,439.5 685.0,441.2 681.7,441.5 682.2,440.9 681.9,440.8" fill="#000"/>
<polygon points="680.0,450.1 680.7,450.2 680.2,448.6 686.2,451.2 679.8,452.9 680.6,451.4 680.0,451.4" fill="#000"/>
<polygon points="681.3,460.1 681.7,460.1 681.3,459.1 685.5,460.8 681.2,461.9 681.6,460.9 681.2,460.9" fill="#000"/>
<circle cx="683.2" cy="468.0" r="0.75" fill="#000"/>
<polygon points="733.7,359.6 733.6,360.0 734.7,359.8 732.2,363.8 731.8,359.2 732.7,359.8 732.8,359.4" fill="#000"/>
<polygon points="733.6,380.4 733.5,380.7 734.4,380.6 732.2,383.8 732.1,379.9 732.8,380.5 732.9,380.1" fill="#000"/>
<polygon points="733.2,398.8 733.2,399.1 733.9,398.9 732.5,401.2 732.1,398.6 732.7,398.9 732.8,398.7" fill="#000"/>
<circle cx="732.8" cy="415.0" r="0.75" fill="#000"/>
<circle cx="733.0" cy="428.0" r="0.75" fill="#000"/>
<polygon points="729.5,439.3 730.2,439.4 729.7,437.7 736.2,440.5 729.3,442.3 730.1,440.7 729.5,440.7" fill="#000"/>
<polygon points="728.0,449.2 729.6,449.2 728.8,447.2 737.0,450.0 728.8,452.8 729.6,450.8 728.0,450.8" fill="#000"/>
<polygon points="728.7,458.7 729.5,458.6 728.5,456.8 736.8,458.8 729.0,462.2 729.6,460.2 728.8,460.3" fill="#000"/>
<polygon points="731.2,467.2 731.5,467.1 731.1,466.4 734.5,467.0 731.4,468.6 731.6,467.8 731.3,467.8" fill="#000"/>
<polygon points="780.8,346.0 781.0,345.8 780.1,345.5 783.2,343.8 781.9,347.0 781.5,346.2 781.2,346.5" fill="#000"/>
<polygon points="779.7,370.1 780.1,369.8 779.0,369.1 784.2,367.5 781.0,371.9 780.7,370.6 780.3,370.9" fill="#000"/>
<polygon points="778.9,390.7 779.5,390.3 778.0,389.3 785.0,387.5 780.5,393.2 780.2,391.4 779.6,391.8" fill="#000"/>
<polygon points="778.4,408.8 779.0,408.4 777.4,407.2 785.5,405.5 780.1,411.8 779.8,409.8 779.1,410.2" fill="#000"/>
<polygon points="777.7,423.7 779.9,422.8 778.3,421.3 787.0,420.5 780.6,426.4 780.6,424.3 778.3,425.3" fill="#000"/>
<polygon points="776.0,436.7 780.6,435.5 779.3,433.8 788.0,434.5 780.7,439.3 781.0,437.1 776.5,438.3" fill="#000"/>
<polygon points="776.1,447.9 780.5,447.3 779.4,445.4 788.0,447.0 780.3,451.0 780.8,448.9 776.4,449.6" fill="#000"/>
<polygon points="777.4,457.2 779.5,457.0 778.5,455.1 787.0,457.0 779.1,460.7 779.7,458.6 777.6,458.8" fill="#000"/>
<polygon points="779.9,466.6 780.4,466.5 779.7,465.5 784.5,466.2 780.3,468.5 780.5,467.4 780.1,467.4" fill="#000"/>
<circle cx="781.8" cy="475.0" r="0.75" fill="#000"/>
</g>
<text x="758.2" y="69.8" font-size="16.7" text-anchor="middle" transform="rotate(0.0 758.2 64.3)">300.0</text>
<text x="286.5" y="151.0" font-size="16.7" text-anchor="middle" transform="rotate(0.0 286.5 145.5)">298.0</text>
<text x="431.0" y="415.0" font-size="16.7" text-anchor="middle" transform="rotate(4.0 431.0 409.5)">296.0</text>
<rect x="100.0" y="48.0" width="722.2" height="480.0" fill="none" stroke="#000" stroke-width="1.4"/>
<path d="M100.0 48.0v5.5" stroke="#000" stroke-width="0.8"/>
<text x="100.4" y="551.2" font-size="22.2" text-anchor="middle" letter-spacing="0.4">−3</text>
<path d="M203.2 48.0v5.5" stroke="#000" stroke-width="0.8"/>
<text x="203.6" y="551.2" font-size="22.2" text-anchor="middle" letter-spacing="0.4">−2</text>
<path d="M306.3 48.0v5.5" stroke="#000" stroke-width="0.8"/>
<text x="306.7" y="551.2" font-size="22.2" text-anchor="middle" letter-spacing="0.4">−1</text>
<path d="M409.5 48.0v5.5" stroke="#000" stroke-width="0.8"/>
<text x="409.9" y="551.2" font-size="22.2" text-anchor="middle" letter-spacing="0.4">0</text>
<path d="M512.7 48.0v5.5" stroke="#000" stroke-width="0.8"/>
<text x="513.1" y="551.2" font-size="22.2" text-anchor="middle" letter-spacing="0.4">1</text>
<path d="M615.9 48.0v5.5" stroke="#000" stroke-width="0.8"/>
<text x="616.3" y="551.2" font-size="22.2" text-anchor="middle" letter-spacing="0.4">2</text>
<path d="M719.0 48.0v5.5" stroke="#000" stroke-width="0.8"/>
<text x="719.4" y="551.2" font-size="22.2" text-anchor="middle" letter-spacing="0.4">3</text>
<path d="M822.2 48.0v5.5" stroke="#000" stroke-width="0.8"/>
<text x="822.6" y="551.2" font-size="22.2" text-anchor="middle" letter-spacing="0.4">4</text>
<path d="M100.0 528.0h5.5M822.2 528.0h-5.5" stroke="#000" stroke-width="0.8"/>
<text x="97.8" y="535.0" font-size="22.2" text-anchor="end" letter-spacing="0.7">0.0</text>
<path d="M100.0 408.0h5.5M822.2 408.0h-5.5" stroke="#000" stroke-width="0.8"/>
<text x="97.8" y="415.0" font-size="22.2" text-anchor="end" letter-spacing="0.7">0.5</text>
<path d="M100.0 288.0h5.5M822.2 288.0h-5.5" stroke="#000" stroke-width="0.8"/>
<text x="97.8" y="295.0" font-size="22.2" text-anchor="end" letter-spacing="0.7">1.0</text>
<path d="M100.0 168.0h5.5M822.2 168.0h-5.5" stroke="#000" stroke-width="0.8"/>
<text x="97.8" y="175.0" font-size="22.2" text-anchor="end" letter-spacing="0.7">1.5</text>
<path d="M100.0 48.0h5.5M822.2 48.0h-5.5" stroke="#000" stroke-width="0.8"/>
<text x="97.8" y="55.0" font-size="22.2" text-anchor="end" letter-spacing="0.7">2.0</text>
<text x="461.9" y="40.9" font-size="25" text-anchor="middle">Init: 2017-04-30 00:00; Valid: 2017-06-05 12:00</text>
<text x="462.2" y="580.7" font-size="25" text-anchor="middle">Distance (km)</text>
<text transform="translate(50 286.2) rotate(-90)" font-size="25" text-anchor="middle">Altitude (km)</text>
<rect x="839.5" y="113.50" width="17.4" height="12.61" fill="#ab0626"/>
<rect x="839.5" y="125.11" width="17.4" height="12.61" fill="#b81226"/>
<rect x="839.5" y="136.72" width="17.4" height="12.61" fill="#c41e27"/>
<rect x="839.5" y="148.33" width="17.4" height="12.61" fill="#d12a27"/>
<rect x="839.5" y="159.94" width="17.4" height="12.61" fill="#db382a"/>
<rect x="839.5" y="171.55" width="17.4" height="12.61" fill="#e24732"/>
<rect x="839.5" y="183.16" width="17.4" height="12.61" fill="#e95638"/>
<rect x="839.5" y="194.77" width="17.4" height="12.61" fill="#f06540"/>
<rect x="839.5" y="206.38" width="17.4" height="12.61" fill="#f57547"/>
<rect x="839.5" y="217.99" width="17.4" height="12.61" fill="#f7854e"/>
<rect x="839.5" y="229.60" width="17.4" height="12.61" fill="#fa9656"/>
<rect x="839.5" y="241.21" width="17.4" height="12.61" fill="#fca65d"/>
<rect x="839.5" y="252.82" width="17.4" height="12.61" fill="#fdb467"/>
<rect x="839.5" y="264.43" width="17.4" height="12.61" fill="#fdc173"/>
<rect x="839.5" y="276.04" width="17.4" height="12.61" fill="#fecd7e"/>
<rect x="839.5" y="287.65" width="17.4" height="12.61" fill="#feda8a"/>
<rect x="839.5" y="299.26" width="17.4" height="12.61" fill="#fee496"/>
<rect x="839.5" y="310.87" width="17.4" height="12.61" fill="#feeca2"/>
<rect x="839.5" y="322.48" width="17.4" height="12.61" fill="#fff3ad"/>
<rect x="839.5" y="334.09" width="17.4" height="12.61" fill="#fffbb9"/>
<rect x="839.5" y="345.70" width="17.4" height="12.61" fill="#f7fccd"/>
<rect x="839.5" y="357.31" width="17.4" height="12.61" fill="#e8f6ea"/>
<rect x="839.5" y="368.92" width="17.4" height="12.61" fill="#d3ecf4"/>
<rect x="839.5" y="380.53" width="17.4" height="12.61" fill="#b8e0ed"/>
<rect x="839.5" y="392.14" width="17.4" height="12.61" fill="#9dcee3"/>
<rect x="839.5" y="403.75" width="17.4" height="12.61" fill="#82b8d7"/>
<rect x="839.5" y="415.36" width="17.4" height="12.61" fill="#689fca"/>
<rect x="839.5" y="426.97" width="17.4" height="12.61" fill="#5183bb"/>
<rect x="839.5" y="438.58" width="17.4" height="12.61" fill="#4065ac"/>
<rect x="839.5" y="450.19" width="17.4" height="11.61" fill="#36469d"/>
<polygon points="839.5,113.5 848.2,95.2 856.9,113.5" fill="#a50026"/>
<polygon points="839.5,461.8 848.2,480.0 856.9,461.8" fill="#313695"/>
<polygon points="839.5,113.5 848.2,95.2 856.9,113.5 856.9,461.8 848.2,480.0 839.5,461.8" fill="none" stroke="#000" stroke-width="1.4" stroke-linejoin="miter"/>
<path d="M856.9 113.5h-5.5" stroke="#000" stroke-width="0.8"/>
<text x="860.6" y="120.9" font-size="22.2" letter-spacing="0.9">20</text>
<path d="M856.9 159.9h-5.5" stroke="#000" stroke-width="0.8"/>
<text x="860.6" y="167.3" font-size="22.2" letter-spacing="0.9">16</text>
<path d="M856.9 206.4h-5.5" stroke="#000" stroke-width="0.8"/>
<text x="860.6" y="213.8" font-size="22.2" letter-spacing="0.9">12</text>
<path d="M856.9 252.8h-5.5" stroke="#000" stroke-width="0.8"/>
<text x="860.6" y="260.2" font-size="22.2" letter-spacing="0.9">8</text>
<path d="M856.9 299.3h-5.5" stroke="#000" stroke-width="0.8"/>
<text x="860.6" y="306.7" font-size="22.2" letter-spacing="0.9">4</text>
<path d="M856.9 345.7h-5.5" stroke="#000" stroke-width="0.8"/>
<text x="860.6" y="353.1" font-size="22.2" letter-spacing="0.9">0</text>
<path d="M856.9 392.1h-5.5" stroke="#000" stroke-width="0.8"/>
<text x="860.6" y="399.5" font-size="22.2" letter-spacing="0.9">−4</text>
<path d="M856.9 438.6h-5.5" stroke="#000" stroke-width="0.8"/>
<text x="860.6" y="446.0" font-size="22.2" letter-spacing="0.9">−8</text>
<text transform="translate(920.7 287.2) rotate(-90)" font-size="25" letter-spacing="0.14" text-anchor="middle">Horizontal wind speed (m s<tspan font-size="16.5" dy="-10">−1</tspan><tspan dy="10">)</tspan></text>
</svg></body></html>
